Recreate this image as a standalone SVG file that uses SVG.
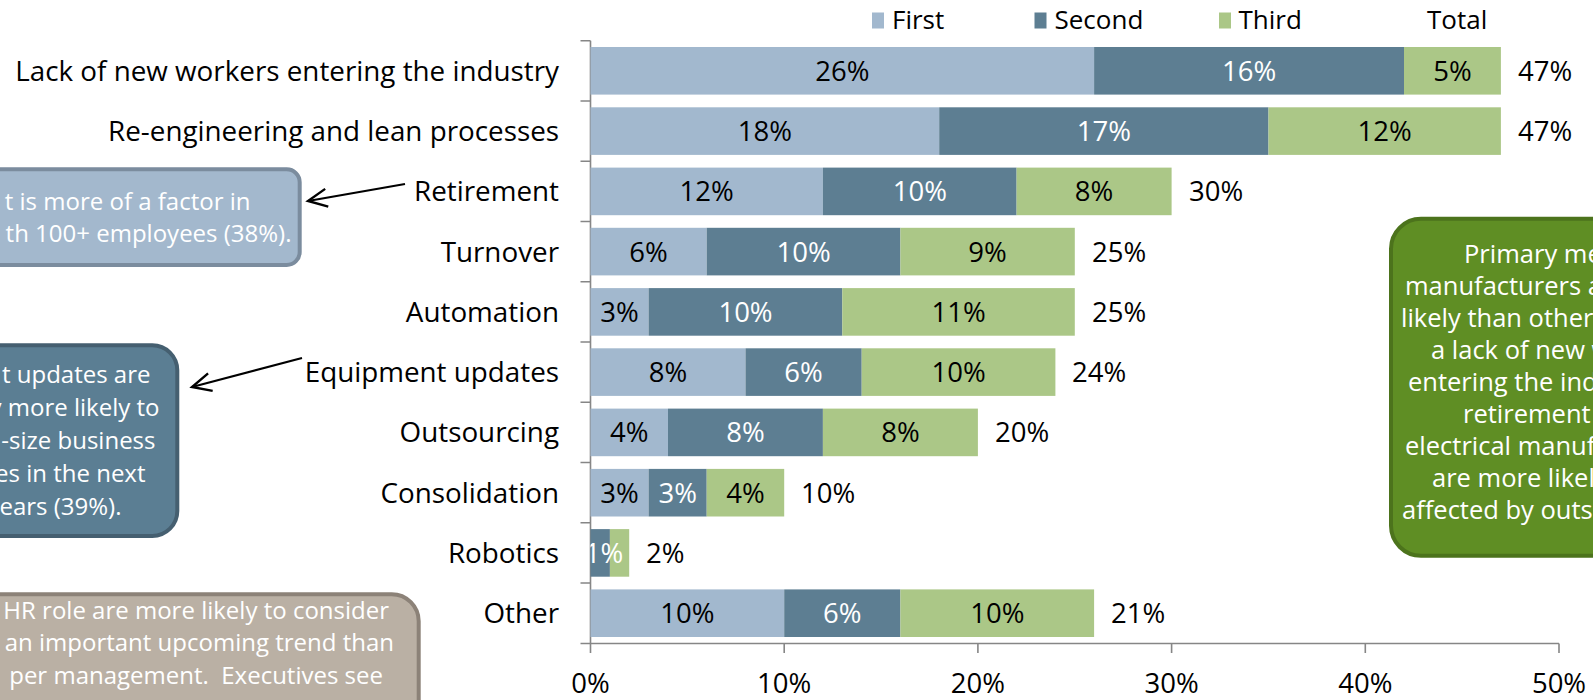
<svg xmlns="http://www.w3.org/2000/svg" width="1593" height="700" viewBox="0 0 1593 700">
<style>
text{font-family:"Open Sans","Liberation Sans",sans-serif;}
.cat{font-size:27.8px;fill:#000;text-anchor:end;}
.num{font-size:27.5px;fill:#000;text-anchor:middle;}
.numw{font-size:27.5px;fill:#fff;text-anchor:middle;}
.tot{font-size:27.5px;fill:#000;text-anchor:start;}
.ax{font-size:27.5px;fill:#000;text-anchor:middle;}
.leg{font-size:26px;fill:#000;}
.f1{fill:#A2B8CE;}
.f2{fill:#5D7E92;}
.f3{fill:#ABC787;}
.axis{stroke:#868686;stroke-width:1.6;fill:none;}
.box{font-size:24px;fill:#fff;white-space:pre;}
.gbox{font-size:25.5px;fill:#fff;}
.conn{stroke:#000;stroke-width:2.2;fill:none;}
</style>
<defs>
<marker id="arr" markerUnits="userSpaceOnUse" markerWidth="26" markerHeight="26" refX="21" refY="11" orient="auto">
<path d="M2,2 L21,11 L2,20" fill="none" stroke="#000" stroke-width="2.4"/>
</marker>
<clipPath id="plot"><rect x="590.5" y="0" width="1002.5" height="700"/></clipPath>
</defs>
<rect width="1593" height="700" fill="#fff"/>

<g id="legend">
<rect class="f1" x="872" y="12.5" width="12" height="16"/>
<text class="leg" x="892" y="28.5">First</text>
<rect class="f2" x="1034.5" y="12.5" width="12" height="16"/>
<text class="leg" x="1054.5" y="28.5">Second</text>
<rect class="f3" x="1219" y="12.5" width="12" height="16"/>
<text class="leg" x="1238.5" y="28.5">Third</text>
<text class="leg" x="1427" y="28.5">Total</text>
</g>

<g id="axes">
<path class="axis" d="M590.5,40.7 V643.5 M580.5,40.7 H590.5 M580.5,100.96 H590.5 M580.5,161.22 H590.5 M580.5,221.48 H590.5 M580.5,281.74 H590.5 M580.5,342 H590.5 M580.5,402.26 H590.5 M580.5,462.52 H590.5 M580.5,522.78 H590.5 M580.5,583.04 H590.5"/>
<path class="axis" d="M580.5,643.5 H1559 M590.5,643.5 V653 M784.2,643.5 V653 M977.9,643.5 V653 M1171.6,643.5 V653 M1365.3,643.5 V653 M1559,643.5 V653"/>
<text class="ax" x="590.5" y="693">0%</text>
<text class="ax" x="784.2" y="693">10%</text>
<text class="ax" x="977.9" y="693">20%</text>
<text class="ax" x="1171.6" y="693">30%</text>
<text class="ax" x="1365.3" y="693">40%</text>
<text class="ax" x="1559" y="693">50%</text>
</g>

<g id="bar-lack">
<text class="cat" x="559" y="80.8">Lack of new workers entering the industry</text>
<rect class="f1" x="590.5" y="47" width="503.6" height="47.6"/>
<rect class="f2" x="1094.1" y="47" width="309.9" height="47.6"/>
<rect class="f3" x="1404" y="47" width="96.9" height="47.6"/>
<text class="num" x="842.3" y="80.8">26%</text>
<text class="numw" x="1249.1" y="80.8">16%</text>
<text class="num" x="1452.5" y="80.8">5%</text>
<text class="tot" x="1518" y="80.8">47%</text>
</g>

<g id="bar-reengineering">
<text class="cat" x="559" y="141.1">Re-engineering and lean processes</text>
<rect class="f1" x="590.5" y="107.3" width="348.7" height="47.6"/>
<rect class="f2" x="939.2" y="107.3" width="329.3" height="47.6"/>
<rect class="f3" x="1268.5" y="107.3" width="232.4" height="47.6"/>
<text class="num" x="764.9" y="141.1">18%</text>
<text class="numw" x="1103.9" y="141.1">17%</text>
<text class="num" x="1384.7" y="141.1">12%</text>
<text class="tot" x="1518" y="141.1">47%</text>
</g>

<g id="bar-retirement">
<text class="cat" x="559" y="201.4">Retirement</text>
<rect class="f1" x="590.5" y="167.6" width="232.4" height="47.6"/>
<rect class="f2" x="822.9" y="167.6" width="193.7" height="47.6"/>
<rect class="f3" x="1016.6" y="167.6" width="155" height="47.6"/>
<text class="num" x="706.7" y="201.4">12%</text>
<text class="numw" x="919.8" y="201.4">10%</text>
<text class="num" x="1094.1" y="201.4">8%</text>
<text class="tot" x="1189" y="201.4">30%</text>
</g>

<g id="bar-turnover">
<text class="cat" x="559" y="261.6">Turnover</text>
<rect class="f1" x="590.5" y="227.8" width="116.2" height="47.6"/>
<rect class="f2" x="706.7" y="227.8" width="193.7" height="47.6"/>
<rect class="f3" x="900.4" y="227.8" width="174.4" height="47.6"/>
<text class="num" x="648.6" y="261.6">6%</text>
<text class="numw" x="803.6" y="261.6">10%</text>
<text class="num" x="987.6" y="261.6">9%</text>
<text class="tot" x="1092" y="261.6">25%</text>
</g>

<g id="bar-automation">
<text class="cat" x="559" y="321.9">Automation</text>
<rect class="f1" x="590.5" y="288.1" width="58.1" height="47.6"/>
<rect class="f2" x="648.6" y="288.1" width="193.7" height="47.6"/>
<rect class="f3" x="842.3" y="288.1" width="232.5" height="47.6"/>
<text class="num" x="619.6" y="321.9">3%</text>
<text class="numw" x="745.5" y="321.9">10%</text>
<text class="num" x="958.6" y="321.9">11%</text>
<text class="tot" x="1092" y="321.9">25%</text>
</g>

<g id="bar-equipment">
<text class="cat" x="559" y="382.1">Equipment updates</text>
<rect class="f1" x="590.5" y="348.3" width="155" height="47.6"/>
<rect class="f2" x="745.5" y="348.3" width="116.2" height="47.6"/>
<rect class="f3" x="861.7" y="348.3" width="193.7" height="47.6"/>
<text class="num" x="668" y="382.1">8%</text>
<text class="numw" x="803.6" y="382.1">6%</text>
<text class="num" x="958.6" y="382.1">10%</text>
<text class="tot" x="1072" y="382.1">24%</text>
</g>

<g id="bar-outsourcing">
<text class="cat" x="559" y="442.4">Outsourcing</text>
<rect class="f1" x="590.5" y="408.6" width="77.5" height="47.6"/>
<rect class="f2" x="668" y="408.6" width="154.9" height="47.6"/>
<rect class="f3" x="822.9" y="408.6" width="155" height="47.6"/>
<text class="num" x="629.3" y="442.4">4%</text>
<text class="numw" x="745.5" y="442.4">8%</text>
<text class="num" x="900.4" y="442.4">8%</text>
<text class="tot" x="995" y="442.4">20%</text>
</g>

<g id="bar-consolidation">
<text class="cat" x="559" y="502.7">Consolidation</text>
<rect class="f1" x="590.5" y="468.9" width="58.1" height="47.6"/>
<rect class="f2" x="648.6" y="468.9" width="58.1" height="47.6"/>
<rect class="f3" x="706.7" y="468.9" width="77.5" height="47.6"/>
<text class="num" x="619.6" y="502.7">3%</text>
<text class="numw" x="677.7" y="502.7">3%</text>
<text class="num" x="745.5" y="502.7">4%</text>
<text class="tot" x="801" y="502.7">10%</text>
</g>

<g id="bar-robotics">
<text class="cat" x="559" y="562.9">Robotics</text>
<rect class="f2" x="590.5" y="529.1" width="19.4" height="47.6"/>
<rect class="f3" x="609.9" y="529.1" width="19.3" height="47.6"/>
<text class="numw" x="604" y="562.9" clip-path="url(#plot)">1%</text>
<text class="tot" x="646" y="562.9">2%</text>
</g>

<g id="bar-other">
<text class="cat" x="559" y="623.2">Other</text>
<rect class="f1" x="590.5" y="589.4" width="193.7" height="47.6"/>
<rect class="f2" x="784.2" y="589.4" width="116.2" height="47.6"/>
<rect class="f3" x="900.4" y="589.4" width="193.7" height="47.6"/>
<text class="num" x="687.4" y="623.2">10%</text>
<text class="numw" x="842.3" y="623.2">6%</text>
<text class="num" x="997.3" y="623.2">10%</text>
<text class="tot" x="1111" y="623.2">21%</text>
</g>

<g id="note-retirement">
<rect x="-40" y="169.3" width="339.7" height="95.7" rx="13" fill="#A3B8CD" stroke="#7B8C9E" stroke-width="4"/>
<text class="box" x="250.5" y="210" text-anchor="end">t is more of a factor in</text>
<text class="box" x="291.5" y="241.7" text-anchor="end">th 100+ employees (38%).</text>
</g>

<g id="note-equipment">
<rect x="-40" y="345.3" width="217.3" height="190.7" rx="25" fill="#5B7E93" stroke="#455F70" stroke-width="4"/>
<text class="box" x="150.5" y="383.3" text-anchor="end">t updates are</text>
<text class="box" x="159.5" y="416.2" text-anchor="end">y more likely to</text>
<text class="box" x="155.5" y="449.1" text-anchor="end">-size business</text>
<text class="box" x="145.5" y="482" text-anchor="end">es in the next</text>
<text class="box" x="121.5" y="515" text-anchor="end">ears (39%).</text>
</g>

<g id="note-hr">
<rect x="-40" y="594.3" width="458.7" height="160" rx="27" fill="#BAB0A4" stroke="#8C8278" stroke-width="4"/>
<text class="box" x="389" y="618.5" text-anchor="end">HR role are more likely to consider</text>
<text class="box" x="394" y="651.2" text-anchor="end">an important upcoming trend than</text>
<text class="box" x="383" y="684" text-anchor="end">per management.  Executives see</text>
</g>

<g id="note-primary">
<rect x="1391" y="218.8" width="260" height="337" rx="30" fill="#5F8E24" stroke="#4C731C" stroke-width="4"/>
<text class="gbox" x="1464" y="263">Primary me</text>
<text class="gbox" x="1405" y="295">manufacturers a</text>
<text class="gbox" x="1401" y="327">likely than other</text>
<text class="gbox" x="1431" y="359">a lack of new w</text>
<text class="gbox" x="1408" y="391">entering the ind</text>
<text class="gbox" x="1463" y="423">retirement w</text>
<text class="gbox" x="1405" y="455">electrical manuf</text>
<text class="gbox" x="1432" y="487">are more likel</text>
<text class="gbox" x="1402" y="519">affected by outs</text>
</g>

<g id="connectors">
<line class="conn" x1="405" y1="184" x2="308" y2="201" marker-end="url(#arr)"/>
<line class="conn" x1="302" y1="358" x2="192" y2="387" marker-end="url(#arr)"/>
</g>
</svg>
